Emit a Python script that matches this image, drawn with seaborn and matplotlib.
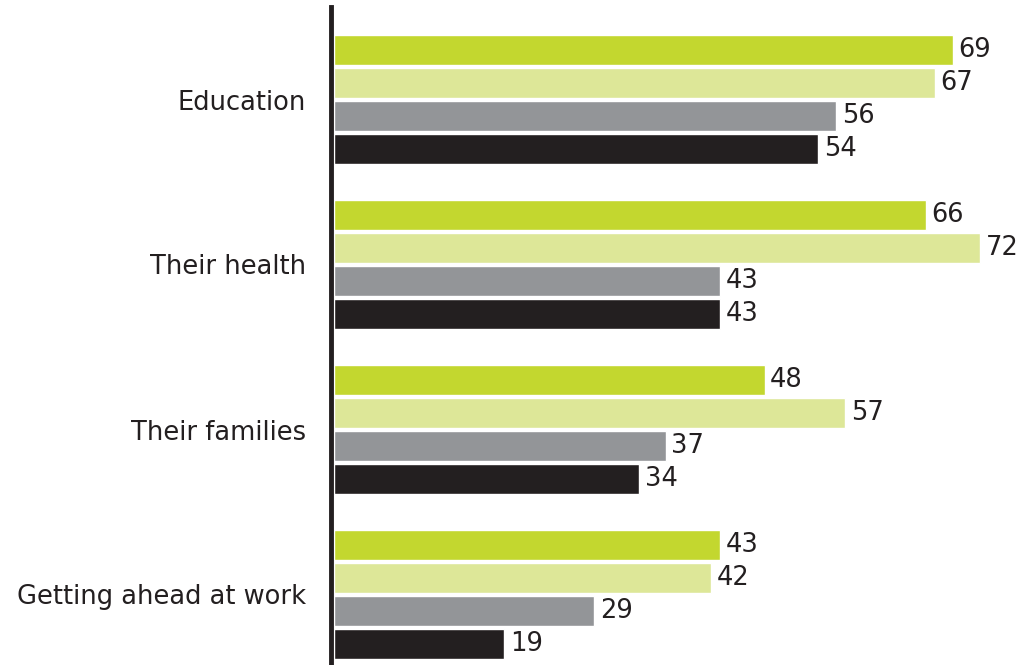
import matplotlib
matplotlib.use("Agg")
import matplotlib.pyplot as plt
import seaborn as sns
import pandas as pd

categories = ["Education", "Their health", "Their families", "Getting ahead at work"]
series = ["A", "B", "C", "D"]
values_a = [69, 66, 48, 43]
values_b = [67, 72, 57, 42]
values_c = [56, 43, 37, 29]
values_d = [54, 43, 34, 19]
palette = ["#c3d72f", "#dde798", "#939598", "#231f20"]

rows = []
for s, vals in zip(series, [values_a, values_b, values_c, values_d]):
    for cat, v in zip(categories, vals):
        rows.append({"category": cat, "series": s, "value": v})
df = pd.DataFrame(rows)

sns.set_style("white")
plt.rcParams["font.family"] = ["DejaVu Sans"]
text_color = "#231f20"

fig = plt.figure(figsize=(10.26, 6.65), dpi=100)
ax = fig.add_axes([334 / 1026, 0, 1 - 334 / 1026, 1 - 7 / 665])

sns.barplot(data=df, y="category", x="value", hue="series", order=categories,
            hue_order=series, palette=palette, orient="h", width=0.8, gap=0.09,
            saturation=1, legend=False, ax=ax, errorbar=None)

for container in ax.containers:
    ax.bar_label(container, fmt="%g", padding=4, fontsize=18.5, color=text_color)

ax.set_xlim(0, (1026 - 334) / 8.97)
ax.set_ylim((665 - 99.5) / 165, (7 - 99.5) / 165)
ax.set_xlabel("")
ax.set_ylabel("")
ax.set_xticks([])
ax.tick_params(axis="y", length=0, pad=18, labelsize=18.5, labelcolor=text_color)
for side in ["top", "right", "bottom"]:
    ax.spines[side].set_visible(False)
ax.spines["left"].set_color(text_color)
ax.spines["left"].set_linewidth(3.5)
ax.spines["left"].set_position(("outward", 2))

fig.savefig("out.png", dpi=100)
